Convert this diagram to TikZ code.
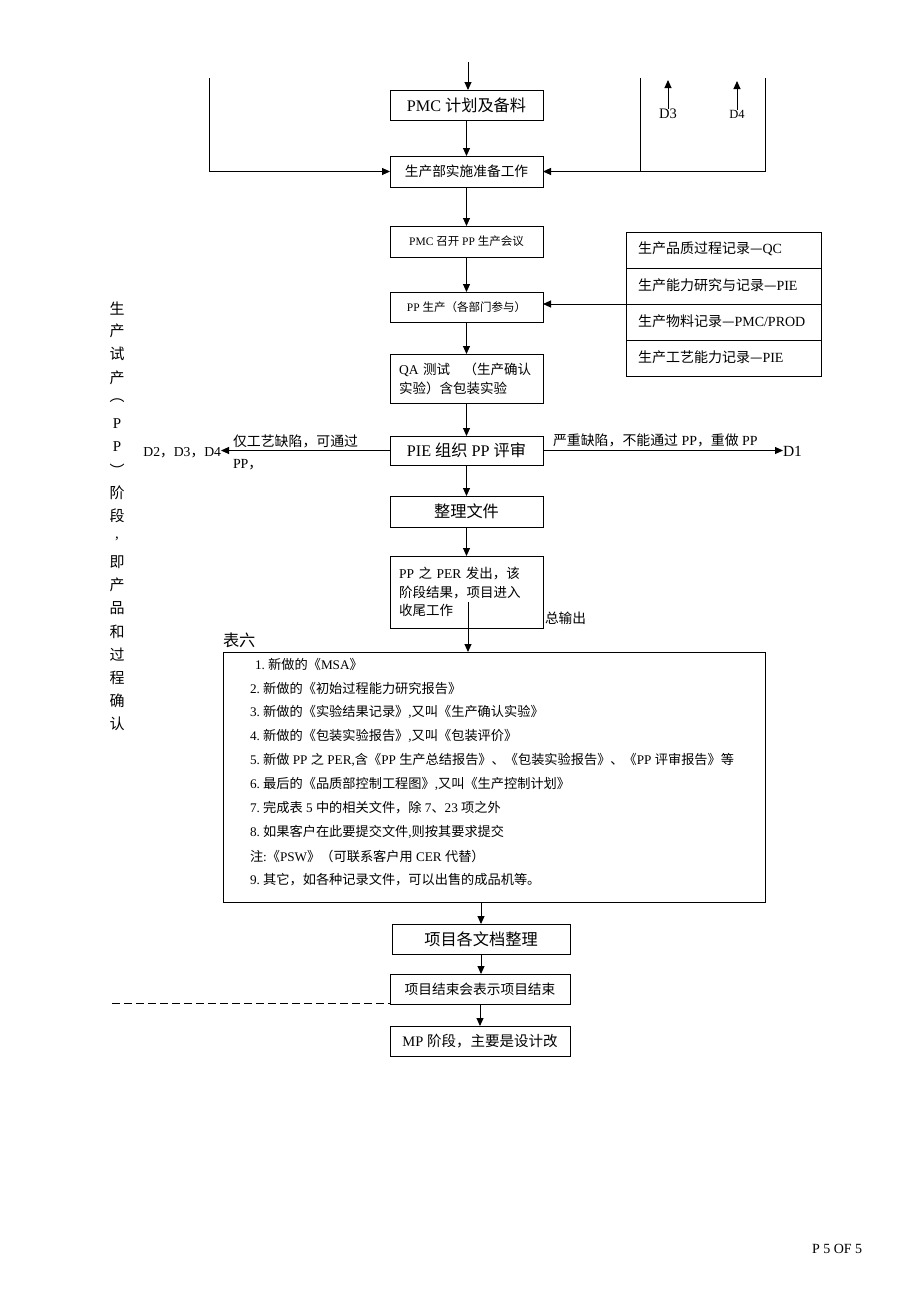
\documentclass[tikz,border=0pt]{standalone}
\usepackage{fontspec}
\setmainfont{Liberation Serif}
\newfontfamily\cjkf{Noto Sans CJK SC}
\newfontfamily\latf{Liberation Serif}
\usetikzlibrary{arrows.meta,calc}
\newXeTeXintercharclass\mycjkclass
\newcount\cjkcnt
\def\setcjkrange#1#2{\cjkcnt=#1\relax\loop\XeTeXcharclass\cjkcnt=\mycjkclass\relax\advance\cjkcnt by 1\relax\ifnum\cjkcnt<#2\relax\repeat}
\setcjkrange{"4E00}{"A000}
\setcjkrange{"3000}{"3040}
\setcjkrange{"FF00}{"FFF0}
\setcjkrange{"FE30}{"FE50}
\XeTeXcharclass"2014=\mycjkclass
\XeTeXinterchartokenstate=1
\XeTeXinterchartoks 0 \mycjkclass = {\cjkf}
\XeTeXinterchartoks 4095 \mycjkclass = {\cjkf}
\XeTeXinterchartoks \mycjkclass 0 = {\latf}
\XeTeXinterchartoks \mycjkclass 4095 = {\latf}
\begin{document}
\begin{tikzpicture}[x=1pt,y=-1pt,
  every node/.style={inner sep=0pt, outer sep=0pt},
  box/.style={draw, line width=0.95pt, minimum width=153pt, minimum height=30pt},
  arr/.style={line width=0.95pt, -{Triangle[length=8pt,width=7pt]}},
  ln/.style={line width=0.95pt},
  fA/.style={font=\fontsize{16.2}{18}\selectfont},
  fB/.style={font=\fontsize{13.7}{16}\selectfont},
  fC/.style={font=\fontsize{11.5}{14}\selectfont},
  fD/.style={font=\fontsize{13.5}{19}\selectfont},
  fE/.style={font=\fontsize{13.9}{16}\selectfont},
  fT/.style={font=\fontsize{14}{16}\selectfont},
  fL/.style={font=\fontsize{13.2}{15}\selectfont}]
\useasboundingbox (0,0) rectangle (920,1302);

% top boxes
\node[box,fA] (pmc) at (466.5,105) {PMC 计划及备料};
\node[box,fB,minimum height=31pt] (prep) at (466.5,171.5) {生产部实施准备工作};
\node[box,fC,minimum height=31pt] (meet) at (466.5,241.5) {PMC 召开 PP 生产会议};
\node[box,fC] (pp) at (466.5,307) {PP 生产（各部门参与）};
\node[box,fD,minimum height=49pt,text width=135pt,align=left,inner xsep=9pt] (qa) at (466.5,378.5) {QA 测试　（生产确认\\实验）含包装实验};
\node[box,fA,minimum height=29pt] (pie) at (466.5,450.5) {PIE 组织 PP 评审};
\node[box,fA,minimum height=31pt] (sort) at (466.5,511.5) {整理文件};
\node[box,font=\fontsize{13.5}{18.5}\selectfont,minimum height=72pt,text width=135pt,align=left,inner xsep=9pt] (per) at (466.5,592) {PP 之 PER 发出，该\\阶段结果，项目进入\\收尾工作};

% top feed lines
\coordinate (tin) at (468,62);
\coordinate (L1) at (209,78);
\coordinate (R1) at (640,78);
\coordinate (R2) at (765,78);
\draw[arr] (tin) -- (tin |- pmc.north);
\draw[arr] (pmc.south) -- (prep.north);
\draw[arr] (L1) |- (prep.west);
\draw[arr] (R2) |- (prep.east);
\draw[ln] (R1) -- (R1 |- prep.east);

% D3 D4
\node[font=\fontsize{14.5}{16}\selectfont] (d3) at (668,114) {D3};
\node[font=\fontsize{12.5}{15}\selectfont] (d4) at (737,114) {D4};
\coordinate (d3t) at (668,80);
\coordinate (d4t) at (737,81);
\draw[arr] (d3.north) -- (d3t);
\draw[arr] (d4.north) -- (d4t);

% chain
\draw[arr] (prep.south) -- (meet.north);
\draw[arr] (meet.south) -- (pp.north);
\draw[arr] (pp.south) -- (qa.north);
\draw[arr] (qa.south) -- (pie.north);
\draw[arr] (pie.south) -- (sort.north);
\draw[arr] (sort.south) -- (per.north);

% right table
\node[draw,ln,minimum width=195pt,minimum height=144pt] (tab) at (723.5,304) {};
\foreach \f in {0.25,0.5,0.75}
  \draw[ln] ($(tab.north west)!\f!(tab.south west)$) -- ($(tab.north east)!\f!(tab.south east)$);
\node[fT,anchor=west] (r1) at (638,249) {生产品质过程记录—QC};
\node[fT,anchor=west] (r2) at (638,285) {生产能力研究与记录—PIE};
\node[fT,anchor=west] (r3) at (638,321) {生产物料记录—PMC/PROD};
\node[fT,anchor=west] (r4) at (638,357) {生产工艺能力记录—PIE};
\draw[arr] (tab.west) -- (tab.west -| pp.east);

% PIE branches
\node[fB,anchor=east] (dl) at (221,453) {D2，D3，D4};
\node[font=\fontsize{15.5}{17}\selectfont,anchor=west] (d1) at (783,451) {D1};
\draw[arr] (pie.west) -- (pie.west -| dl.east);
\draw[arr] (pie.east) -- (pie.east -| d1.west);
\node[fE,anchor=west] (lt1) at (233,441) {仅工艺缺陷，可通过};
\node[fE,anchor=west] (lt2) at (233,465) {PP，};
\node[fE,anchor=west] (rt1) at (553,440) {严重缺陷，不能通过 PP，重做 PP};

% vertical side text
\foreach \c [count=\i] in {生,产,试,产,︵,P,P,︶,阶,段,{,},即,产,品,和,过,程,确,认}
  \node[font=\fontsize{15}{17}\selectfont] (v\i) at (117,{285+23.1*\i}) {\c};

% output list
\node[fB,anchor=west] (zsc) at (545,618) {总输出};
\node[fA,anchor=west] (b6) at (223,640) {表六};
\node[draw,ln,minimum width=542pt,minimum height=250pt] (biglist) at (494,777) {};
\coordinate (perout) at (468,602);
\draw[arr] (perout) -- (perout |- biglist.north);
\node[fL,anchor=west] (i1) at (255,664) {1.~新做的《MSA》};
\node[fL,anchor=west] (i2) at (250,688) {2.~新做的《初始过程能力研究报告》};
\node[fL,anchor=west] (i3) at (250,712) {3.~新做的《实验结果记录》,又叫《生产确认实验》};
\node[fL,anchor=west] (i4) at (250,736) {4.~新做的《包装实验报告》,又叫《包装评价》};
\node[fL,anchor=west] (i5) at (250,760) {5.~新做 PP 之 PER,含《PP 生产总结报告》、《包装实验报告》、《PP 评审报告》等};
\node[fL,anchor=west] (i6) at (250,784) {6.~最后的《品质部控制工程图》,又叫《生产控制计划》};
\node[fL,anchor=west] (i7) at (250,808) {7.~完成表 5 中的相关文件，除 7、23 项之外};
\node[fL,anchor=west] (i8) at (250,832) {8.~如果客户在此要提交文件,则按其要求提交};
\node[fL,anchor=west] (i9) at (250,856) {注:《PSW》（可联系客户用 CER 代替）};
\node[fL,anchor=west] (i10) at (250,880) {9.~其它，如各种记录文件，可以出售的成品机等。};

% bottom boxes
\node[box,fA,minimum width=178pt] (docs) at (481,939) {项目各文档整理};
\node[box,fB,minimum width=180pt] (endm) at (480,989) {项目结束会表示项目结束};
\node[box,font=\fontsize{14.5}{16}\selectfont,minimum width=180pt] (mp) at (480,1041) {MP 阶段，主要是设计改};
\draw[arr] (docs.north |- biglist.south) -- (docs.north);
\draw[arr] (docs.south) -- (docs.south |- endm.north);
\draw[arr] (endm.south) -- (endm.south |- mp.north);
\coordinate (dash0) at (112,1003);
\draw[line width=0.95pt,dash pattern=on 8pt off 4pt] (dash0) -- (dash0 -| endm.west);

\node[fT,anchor=west] (pg) at (812,1249) {P 5 OF 5};
\end{tikzpicture}
\end{document}
